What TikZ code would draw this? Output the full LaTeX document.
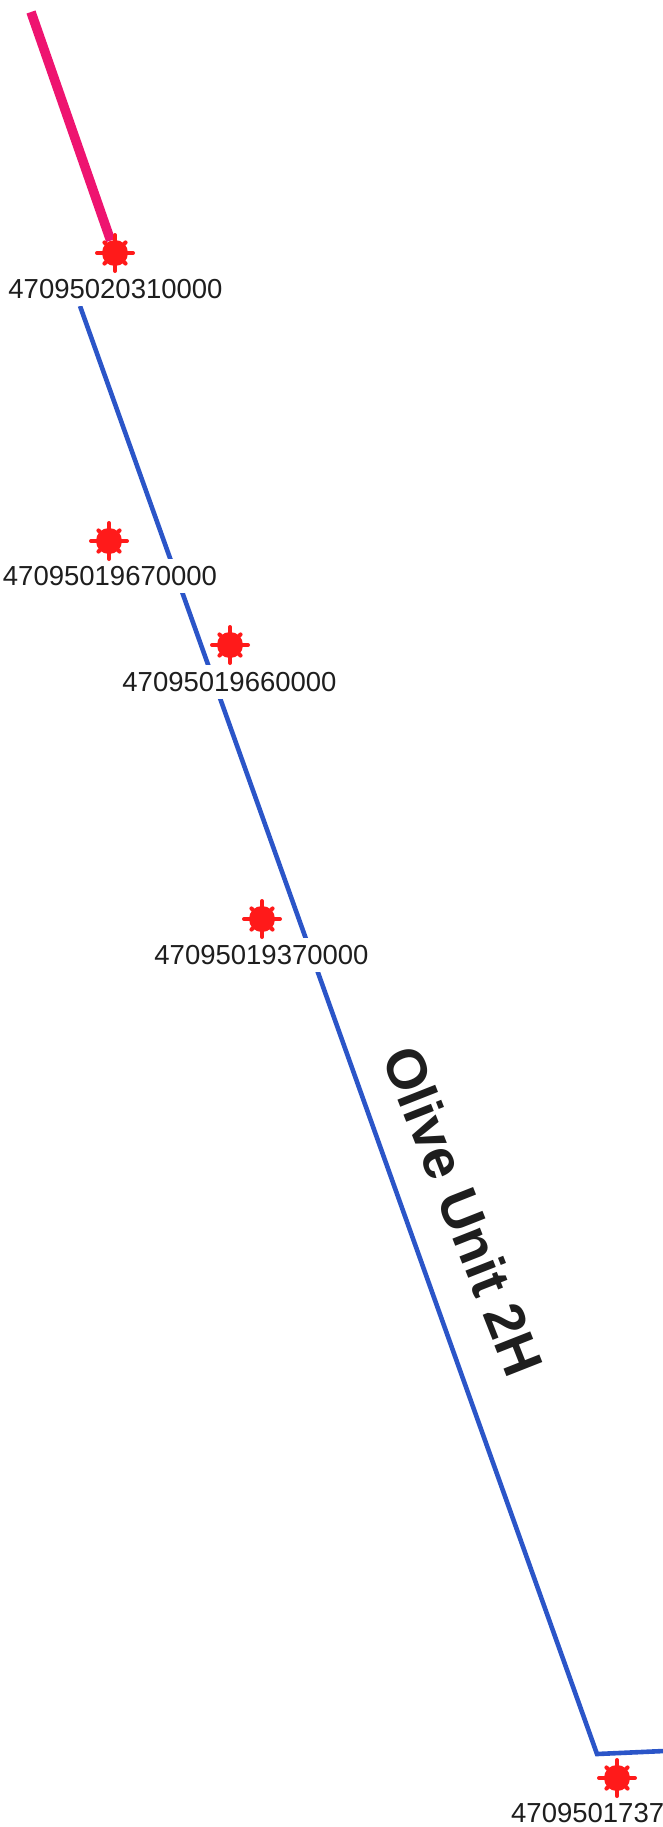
\documentclass[tikz,border=0pt]{standalone}
\usepackage{fontspec}
\setmainfont{Liberation Sans}
\usetikzlibrary{backgrounds}
\definecolor{wellred}{HTML}{FF1A1A}
\definecolor{lateralblue}{HTML}{2B55C8}
\definecolor{lateralpink}{HTML}{EE1470}
\definecolor{labelblack}{HTML}{1E1E1E}
\tikzset{
  x=1pt,y=-1pt,
  wellstar/.style={circle,fill=wellred,inner sep=0pt,minimum size=26pt},
  wellarm/.style={draw=wellred,line width=4pt,line cap=round},
  apilabel/.style={fill=white,text=labelblack,inner xsep=0pt,inner ysep=7pt,
    font=\fontsize{27.5pt}{30pt}\selectfont},
  bluepath/.style={draw=lateralblue,line width=4.6pt,line join=miter},
  pinkpath/.style={draw=lateralpink,line width=9.5pt},
  wellname/.style={text=labelblack,font=\fontsize{56pt}{60pt}\selectfont\bfseries,inner sep=0pt}
}
\begin{document}
\begin{tikzpicture}
\useasboundingbox (0,0) rectangle (663,1827);
\coordinate (pinkstart) at (31,12);
\coordinate (bluestart) at (80,306);
\coordinate (bluecorner) at (597,1754);
\coordinate (blueend) at (664,1751);
\node[apilabel] (l1) at (115.5,289) {47095020310000};
\node[apilabel] (l2) at (110,576) {47095019670000};
\node[apilabel] (l3) at (229.5,682) {47095019660000};
\node[apilabel] (l4) at (261.5,955) {47095019370000};
\node[apilabel,anchor=west] (l5) at (511,1813) {4709501737};
\node[wellstar] (s1) at (115,253) {};
\node[wellstar] (s2) at (109,541) {};
\node[wellstar] (s3) at (230,645) {};
\node[wellstar] (s4) at (262,919) {};
\node[wellstar] (s5) at (617,1778) {};
\foreach \s in {s1,s2,s3,s4,s5}{
  \foreach \ang in {0,90,180,270} \draw[wellarm] (\s.center) -- ++(\ang:18pt);
  \foreach \ang in {45,135,225,315} \draw[wellarm] (\s.center) -- ++(\ang:15pt);
}
\node[wellname,rotate=-68.5] (olive) at (463.5,1211) {Olive Unit 2H};
\begin{pgfonlayer}{background}
\draw[bluepath] (bluestart) -- (bluecorner) -- (blueend);
\draw[pinkpath] (pinkstart) -- (s1);
\end{pgfonlayer}
\end{tikzpicture}
\end{document}
